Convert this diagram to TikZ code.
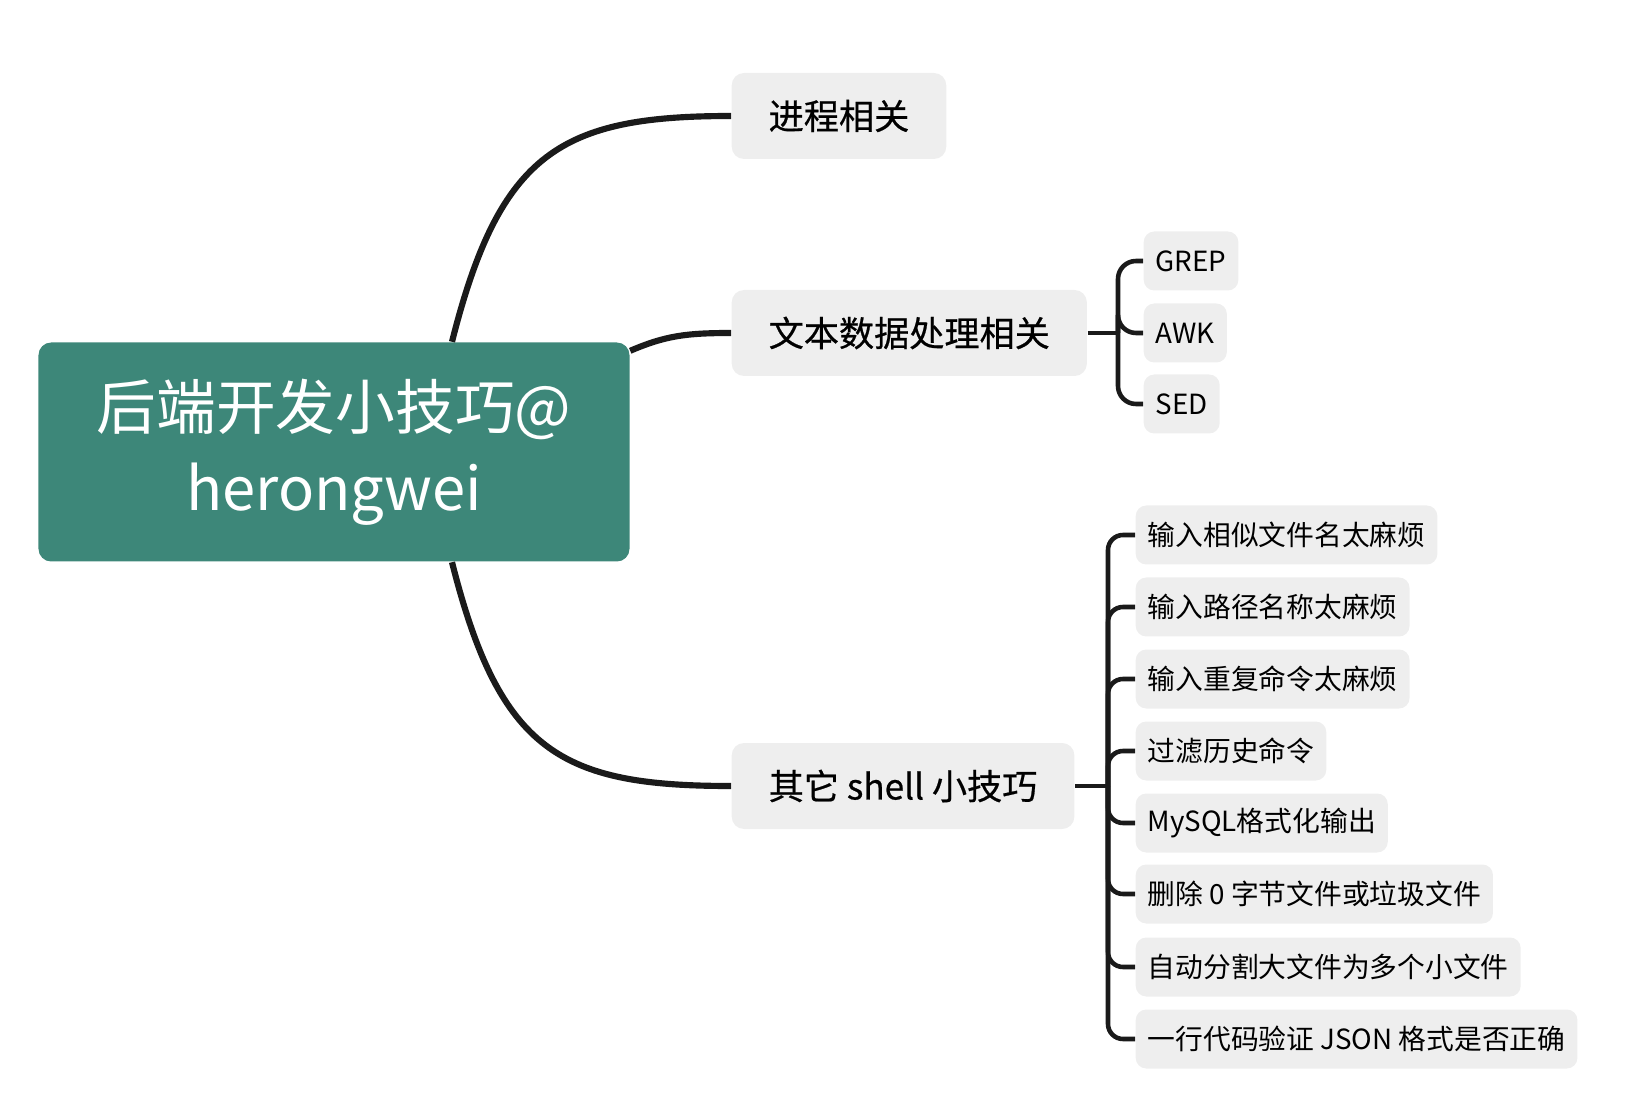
\documentclass[tikz,border=0pt]{standalone}
\usepackage{fontspec}
\setmainfont{Noto Sans CJK SC}
\newfontfamily\topicfont{Noto Sans CJK SC}[FakeBold=0.6]
\usepackage{tikz}
\definecolor{rootteal}{HTML}{3D8779}
\definecolor{topicgray}{HTML}{EEEEEE}
\definecolor{linedark}{HTML}{1A1A1A}

\begin{document}
\begin{tikzpicture}[
    roottopic/.style={fill=rootteal, text=white, rounded corners=3.6pt,
        minimum width=5.91cm, minimum height=2.19cm, align=center,
        font=\fontsize{17}{23}\selectfont},
    maintopic/.style={fill=topicgray, rounded corners=3.5pt, anchor=west,
        minimum height=0.86cm, inner xsep=0.37cm, font=\topicfont\fontsize{10}{12}\selectfont},
    subtopic/.style={fill=topicgray, rounded corners=3pt, anchor=west,
        minimum height=0.59cm, inner xsep=0.12cm, font=\fontsize{7.9}{9.5}\selectfont},
    mainbranch/.style={draw=linedark, line width=1.75pt},
    subbranch/.style={draw=linedark, line width=1.3pt, rounded corners=0.18cm}]
    \useasboundingbox (0,0) rectangle (16.42,11.02);

    % Central topic
    \node[roottopic] (root) at (3.34,6.50) {后端开发小技巧@\\herongwei};

    % Main topics
    \node[maintopic] (proc) at (7.31,9.86) {进程相关};
    \node[maintopic] (text) at (7.31,7.69) {文本数据处理相关};
    \node[maintopic] (shell) at (7.31,3.16) {其它 shell 小技巧};

    % Text tools
    \node[subtopic] (grep) at (11.43,8.41) {GREP};
    \node[subtopic] (awk) at (11.43,7.69) {AWK};
    \node[subtopic] (sed) at (11.43,6.98) {SED};

    % Shell tips
    \node[subtopic] (tipa) at (11.35,5.67) {输入相似文件名太麻烦};
    \node[subtopic] (tipb) at (11.35,4.95) {输入路径名称太麻烦};
    \node[subtopic] (tipc) at (11.35,4.23) {输入重复命令太麻烦};
    \node[subtopic] (tipd) at (11.35,3.51) {过滤历史命令};
    \node[subtopic] (tipe) at (11.35,2.79) {MySQL格式化输出};
    \node[subtopic] (tipf) at (11.35,2.08) {删除 0 字节文件或垃圾文件};
    \node[subtopic] (tipg) at (11.35,1.35) {自动分割大文件为多个小文件};
    \node[subtopic] (tiph) at (11.35,0.63) {一行代码验证 JSON 格式是否正确};

    % Curves from the central topic
    \draw[mainbranch] ([xshift=1.18cm]root.north) .. controls +(0.48,1.9) and +(-1.7,0) .. (proc.west);
    \draw[mainbranch] ([yshift=-0.09cm]root.north east) .. controls +(0.35,0.15) and +(-0.45,0) .. (text.west);
    \draw[mainbranch] ([xshift=1.18cm]root.south) .. controls +(0.48,-1.9) and +(-1.7,0) .. (shell.west);

    % Brackets
    \coordinate (textbus) at (11.18,7.69);
    \coordinate (shellbus) at (11.08,3.16);
    \draw[subbranch] (text.east) -- (textbus);
    \draw[subbranch] (textbus) |- (grep.west);
    \draw[subbranch] (textbus) |- (awk.west);
    \draw[subbranch] (textbus) |- (sed.west);
    \draw[subbranch] (shell.east) -- (shellbus);
    \draw[subbranch, rounded corners=0.15cm] (shellbus) |- (tipa.west);
    \draw[subbranch, rounded corners=0.15cm] (shellbus) |- (tipb.west);
    \draw[subbranch, rounded corners=0.15cm] (shellbus) |- (tipc.west);
    \draw[subbranch, rounded corners=0.15cm] (shellbus) |- (tipd.west);
    \draw[subbranch, rounded corners=0.15cm] (shellbus) |- (tipe.west);
    \draw[subbranch, rounded corners=0.15cm] (shellbus) |- (tipf.west);
    \draw[subbranch, rounded corners=0.15cm] (shellbus) |- (tipg.west);
    \draw[subbranch, rounded corners=0.15cm] (shellbus) |- (tiph.west);
\end{tikzpicture}
\end{document}
